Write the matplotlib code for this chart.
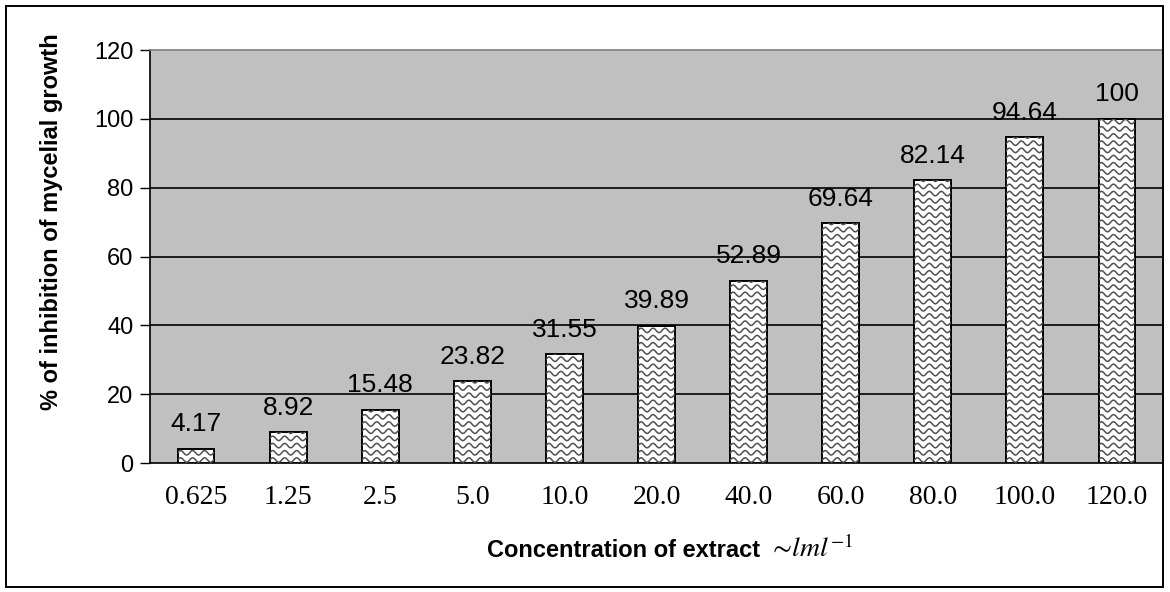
import numpy as np
import matplotlib
matplotlib.use("Agg")
import matplotlib.pyplot as plt
from matplotlib.patches import Rectangle
from matplotlib.transforms import IdentityTransform

concentrations = ["0.625", "1.25", "2.5", "5.0", "10.0", "20.0", "40.0",
                  "60.0", "80.0", "100.0", "120.0"]
inhibition = [4.17, 8.92, 15.48, 23.82, 31.55, 39.89, 52.89,
              69.64, 82.14, 94.64, 100]
value_labels = ["4.17", "8.92", "15.48", "23.82", "31.55", "39.89", "52.89",
                "69.64", "82.14", "94.64", "100"]
y_ticks = [0, 20, 40, 60, 80, 100, 120]

plt.rcParams["font.family"] = ["Liberation Sans", "DejaVu Sans"]
plt.rcParams["mathtext.fontset"] = "stix"

fig = plt.figure(figsize=(11.7, 5.92), dpi=100)
fig.patch.set_facecolor("white")
fig.patches.append(Rectangle((6 / 1170, 5 / 592), 1157 / 1170, 581 / 592,
                             transform=fig.transFigure, fill=False,
                             edgecolor="black", linewidth=1.4))

ax = fig.add_axes([0.1282, 0.2179, 0.8658, 0.6976])
ax.set_facecolor("#c0c0c0")

x = np.arange(len(concentrations))
bars = ax.bar(x, inhibition, width=0.4, color="white", edgecolor="black",
              linewidth=1.4, zorder=3)
ax.set_xlim(-0.5, len(concentrations) - 0.5)
ax.set_ylim(0, 120)

for y in y_ticks[1:-1]:
    ax.axhline(y, color="black", linewidth=1.2, zorder=1)

for spine in ("top", "right"):
    ax.spines[spine].set_color("#808080")
    ax.spines[spine].set_linewidth(1.2)
ax.spines["left"].set_color("black")
ax.spines["bottom"].set_color("black")
ax.spines["left"].set_linewidth(1.2)
ax.spines["bottom"].set_linewidth(1.2)

ax.set_yticks(y_ticks)
ax.tick_params(axis="y", direction="out", length=7, width=1.0, labelsize=17, pad=5)
ax.set_xticks(x)
ax.set_xticklabels(concentrations, fontfamily="Liberation Serif", fontsize=20)
ax.tick_params(axis="x", length=0, pad=16)

ax.set_ylabel("% of inhibition of mycelial growth", fontsize=17,
              fontweight="bold")
ax.yaxis.set_label_coords(-0.086, 0.585)

for xi, v, lab in zip(x, inhibition, value_labels):
    ax.annotate(lab, (xi, v), xytext=(0, 9), textcoords="offset points",
                ha="center", va="bottom", fontsize=19, zorder=4)

# wavy fill drawn inside each bar, clipped to its outline
fig.canvas.draw()
for bar in bars:
    x0, y0 = ax.transData.transform((bar.get_x(), 0))
    x1, y1 = ax.transData.transform((bar.get_x() + bar.get_width(), bar.get_height()))
    xs = np.linspace(x0 - 2, x1 + 2, 80)
    row = y0 + 3
    while row < y1 + 4:
        ys = row + 2.2 * np.sin(2 * np.pi * (xs - x0) / 12.0)
        line, = ax.plot(xs, ys, transform=IdentityTransform(), color="#505050",
                        linewidth=1.1, zorder=3.5)
        line.set_clip_path(bar)
        row += 7.2

fig.text(0.650, 0.059, "Concentration of extract", fontsize=17,
         fontweight="bold", ha="right", va="baseline")
fig.text(0.656, 0.059, r"$\sim\!lml^{-1}$", fontsize=20, ha="left", va="baseline")

fig.savefig("out.png", dpi=100)
